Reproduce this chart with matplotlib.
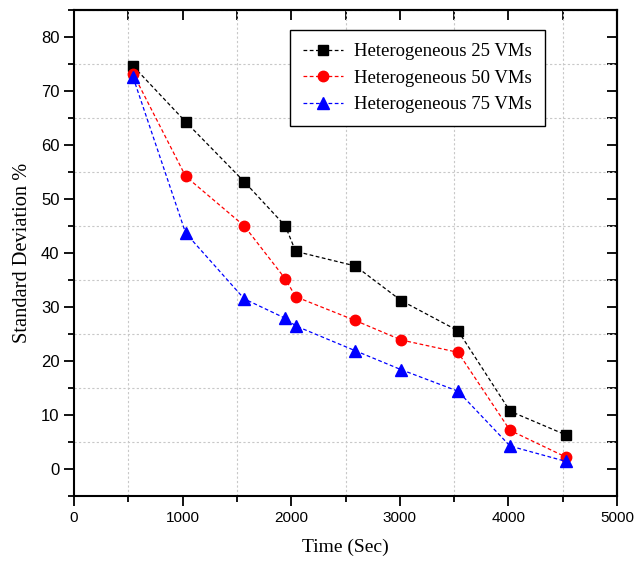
import matplotlib
matplotlib.use("Agg")
import matplotlib.pyplot as plt
from matplotlib.ticker import MultipleLocator

time_sec = [545, 1028, 1568, 1946, 2041, 2590, 3011, 3536, 4015, 4530]
vm25 = [74.6, 64.3, 53.2, 45.0, 40.3, 37.6, 31.2, 25.6, 10.7, 6.3]
vm50 = [73.2, 54.2, 45.0, 35.2, 31.9, 27.5, 23.9, 21.6, 7.15, 2.2]
vm75 = [72.5, 43.7, 31.5, 27.9, 26.5, 21.9, 18.4, 14.4, 4.25, 1.4]
labels = ["Heterogeneous 25 VMs", "Heterogeneous 50 VMs", "Heterogeneous 75 VMs"]

fig = plt.figure(figsize=(6.35, 5.68), dpi=100)
ax = fig.add_axes([0.1165, 0.1268, 0.8552, 0.8556])

dash = (0, (3, 2))
ax.plot(time_sec, vm25, linestyle=dash, color="black", lw=0.9, marker="s", ms=7,
        mfc="black", mec="black", label=labels[0], zorder=3)
ax.plot(time_sec, vm50, linestyle=dash, color="red", lw=0.9, marker="o", ms=7.5,
        mfc="red", mec="red", label=labels[1], zorder=3)
ax.plot(time_sec, vm75, linestyle=dash, color="blue", lw=0.9, marker="^", ms=8,
        mfc="blue", mec="blue", label=labels[2], zorder=3)

ax.set_xlim(0, 5000)
ax.set_ylim(-5, 85)
ax.xaxis.set_major_locator(MultipleLocator(1000))
ax.xaxis.set_minor_locator(MultipleLocator(500))
ax.set_yticks(range(0, 81, 10))
ax.yaxis.set_minor_locator(MultipleLocator(5))

ax.grid(which="minor", color="#c8c8c8", linestyle=(0, (2, 2)), linewidth=0.8)
ax.grid(which="major", visible=False)

for s in ax.spines.values():
    s.set_linewidth(1.5)

ax.tick_params(which="major", direction="out", length=7, width=1.3, top=False, right=False)
ax.tick_params(which="minor", direction="out", length=4, width=1.3, top=False, right=False)
ax.tick_params(axis="x", labelsize=11)
ax.tick_params(axis="y", labelsize=12)
for lab in ax.get_xticklabels() + ax.get_yticklabels():
    lab.set_family("Liberation Sans")

# top and right ticks (inward)
top = ax.secondary_xaxis("top")
top.xaxis.set_major_locator(MultipleLocator(500))
top.tick_params(which="both", direction="in", length=7, width=1.3, labeltop=False)
top.spines["top"].set_linewidth(1.5)
right = ax.secondary_yaxis("right")
right.yaxis.set_major_locator(MultipleLocator(5))
right.tick_params(which="both", direction="in", length=7, width=1.3, labelright=False)
right.spines["right"].set_linewidth(1.5)

ax.set_xlabel("Time (Sec)", family="Liberation Serif", fontsize=14, labelpad=10)
ax.set_ylabel("Standard Deviation %", family="Liberation Serif", fontsize=14.7, labelpad=6)

leg = ax.legend(loc="upper right", bbox_to_anchor=(0.867, 0.959), borderaxespad=0,
                numpoints=1, prop={"family": "Liberation Serif", "size": 13.5},
                fancybox=False, edgecolor="black", framealpha=1, handlelength=2.1,
                borderpad=0.7, labelspacing=0.5, handletextpad=0.6)
leg.get_frame().set_linewidth(1.0)

fig.savefig("out.png", dpi=100)
